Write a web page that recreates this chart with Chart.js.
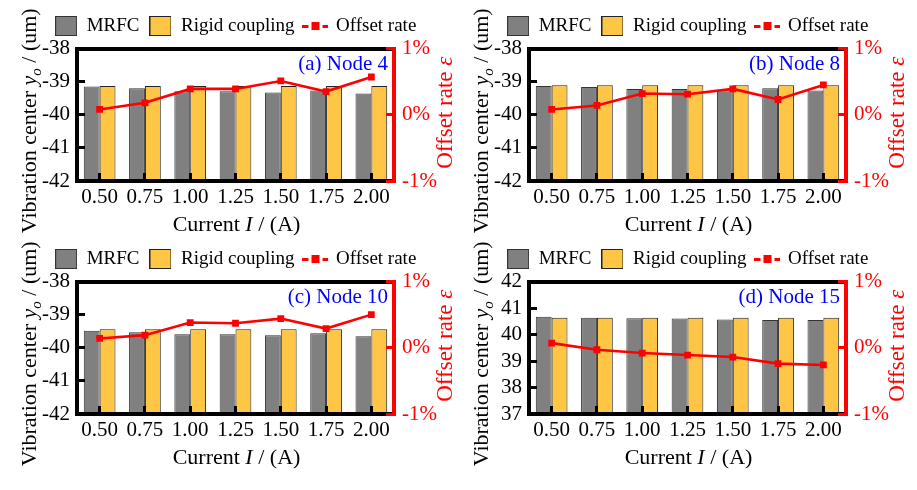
<!DOCTYPE html>
<html>
<head>
<meta charset="utf-8">
<script src="https://cdn.jsdelivr.net/npm/chart.js@4.4.0/dist/chart.umd.min.js"></script>
<style>
  body { margin: 0; background: #fff; width: 917px; height: 490px; position: relative; overflow: hidden; }
  canvas { position: absolute; }
</style>
</head>
<body>
<canvas id="panelA" width="458" height="257" style="left:0;top:0"></canvas>
<canvas id="panelB" width="458" height="257" style="left:452px;top:0"></canvas>
<canvas id="panelC" width="458" height="257" style="left:0;top:233px"></canvas>
<canvas id="panelD" width="458" height="257" style="left:452px;top:233px"></canvas>
<script>
// currents on the x axis
const currents = ['0.50', '0.75', '1.00', '1.25', '1.50', '1.75', '2.00'];

// node 4
const mrfcNode4 = [-39.15, -39.20, -39.29, -39.29, -39.33, -39.27, -39.36];
const rigidNode4 = [-39.13, -39.13, -39.13, -39.13, -39.13, -39.13, -39.13];
const offsetNode4 = [0.08, 0.18, 0.39, 0.39, 0.51, 0.35, 0.57];

// node 8
const mrfcNode8 = [-39.13, -39.16, -39.22, -39.22, -39.26, -39.20, -39.27];
const rigidNode8 = [-39.11, -39.11, -39.11, -39.11, -39.11, -39.11, -39.11];
const offsetNode8 = [0.08, 0.14, 0.32, 0.31, 0.39, 0.23, 0.45];

// node 10
const mrfcNode10 = [-39.49, -39.53, -39.59, -39.59, -39.62, -39.56, -39.65];
const rigidNode10 = [-39.44, -39.44, -39.44, -39.44, -39.44, -39.44, -39.44];
const offsetNode10 = [0.14, 0.19, 0.38, 0.37, 0.44, 0.29, 0.50];

// node 15
const mrfcNode15 = [40.67, 40.63, 40.61, 40.60, 40.57, 40.55, 40.55];
const rigidNode15 = [40.63, 40.63, 40.63, 40.63, 40.63, 40.63, 40.63];
const offsetNode15 = [0.07, -0.03, -0.08, -0.11, -0.14, -0.24, -0.26];

// right axis ticks (%)
const offsetTicks = [-1, 0, 1];

const serif = "'Liberation Serif', 'Times New Roman', serif";
const GRAY = '#808080';
const ORANGE = '#ffc545';
const RED = '#ff0000';

// legend icons, one per dataset
function legendIcon(kind) {
  const c = document.createElement('canvas');
  const g = c.getContext('2d');
  if (kind === 'line') {
    c.width = 26; c.height = 10;
    g.fillStyle = RED;
    g.fillRect(0, 4, 6, 3);
    g.fillRect(9, 1, 8, 8);
    g.fillRect(20, 4, 6, 3);
  } else {
    c.width = 22; c.height = 20;
    g.fillStyle = kind === 'gray' ? GRAY : ORANGE;
    g.fillRect(0, 0, 22, 20);
    g.strokeStyle = kind === 'gray' ? '#333' : '#222';
    g.lineWidth = 1;
    g.strokeRect(0.5, 0.5, 21, 19);
  }
  return c;
}
const icons = [legendIcon('gray'), legendIcon('orange'), legendIcon('line')];

// text made of plain / italic / subscript pieces, centred on x
function richText(ctx, parts, x, y, size, color) {
  const fontOf = p => (p.it ? 'italic ' : '') + (p.sub ? Math.round(size * 0.7) : size) + 'px ' + serif;
  let total = 0;
  parts.forEach(p => { ctx.font = fontOf(p); total += ctx.measureText(p.t).width; });
  let cx = x - total / 2;
  ctx.fillStyle = color;
  ctx.textAlign = 'left';
  ctx.textBaseline = 'alphabetic';
  parts.forEach(p => {
    ctx.font = fontOf(p);
    ctx.fillText(p.t, cx, y + (p.sub ? size * 0.22 : 0));
    cx += ctx.measureText(p.t).width;
  });
}

const titlesPlugin = {
  id: 'titles',
  afterDraw(chart, args, opts) {
    const ctx = chart.ctx;
    const ca = chart.chartArea;
    const midY = (ca.top + ca.bottom) / 2;
    ctx.save();
    richText(ctx, [{ t: 'Current ' }, { t: 'I', it: true }, { t: ' / (A)' }],
      (ca.left + ca.right) / 2 + 1, ca.bottom + 50, 22, '#000');

    ctx.save();
    ctx.translate(ca.left - 41, midY + 6);
    ctx.rotate(-Math.PI / 2);
    richText(ctx, [{ t: 'Vibration center ' }, { t: 'y', it: true }, { t: 'o', it: true, sub: true }, { t: ' / (um)' }],
      0, 0, 22, '#000');
    ctx.restore();

    ctx.save();
    ctx.translate(ca.right + 58, midY - 2);
    ctx.rotate(-Math.PI / 2);
    richText(ctx, [{ t: 'Offset rate ' }, { t: 'ε', it: true }], 0, 0, 23, RED);
    ctx.restore();

    ctx.font = '21px ' + serif;
    ctx.fillStyle = '#0000ff';
    ctx.textAlign = 'right';
    ctx.textBaseline = 'alphabetic';
    ctx.fillText(opts.tag, ca.right - 6, ca.top + 21);
    ctx.restore();
  }
};

function makePanel(id, tag, mrfc, rigid, offset, yMin, yMax) {
  const H = 257;
  new Chart(document.getElementById(id), {
    data: {
      labels: currents,
      datasets: [
        {
          type: 'bar', label: 'MRFC', xAxisID: 'x', yAxisID: 'y',
          data: mrfc.map(v => [yMin, v]),
          backgroundColor: GRAY, borderColor: '#333', borderWidth: 1, borderSkipped: false,
          categoryPercentage: 0.7, barPercentage: 1, order: 1
        },
        {
          type: 'bar', label: 'Rigid coupling', xAxisID: 'x', yAxisID: 'y',
          data: rigid.map(v => [yMin, v]),
          backgroundColor: ORANGE, borderColor: '#222', borderWidth: 1, borderSkipped: false,
          categoryPercentage: 0.7, barPercentage: 1, order: 1
        },
        {
          type: 'line', label: 'Offset rate', xAxisID: 'x', yAxisID: 'y1',
          data: offset,
          borderColor: RED, borderWidth: 2.6, tension: 0,
          pointStyle: 'rect', pointRadius: 4.8, pointBackgroundColor: RED, pointBorderWidth: 0,
          order: 0
        }
      ]
    },
    options: {
      responsive: false,
      animation: false,
      events: [],
      layout: { padding: { left: 13.5, top: 6.5, right: 0, bottom: 0 } },
      plugins: {
        legend: {
          position: 'top',
          labels: {
            usePointStyle: true, pointStyleWidth: 22, padding: 10, color: '#000',
            font: { family: serif, size: 19 },
            generateLabels: chart => {
              const items = Chart.defaults.plugins.legend.labels.generateLabels(chart);
              items.sort((a, b) => a.datasetIndex - b.datasetIndex);
              items.forEach(it => { it.pointStyle = icons[it.datasetIndex]; it.fontColor = '#000'; });
              return items;
            }
          }
        },
        tooltip: { enabled: false },
        titles: { tag: tag }
      },
      scales: {
        x: {
          type: 'category', position: 'bottom', offset: true,
          grid: { display: true, z: 1, drawOnChartArea: false, offset: false, tickLength: -8, tickWidth: 3, tickColor: '#000' },
          border: { color: '#000', width: 4, z: 2 },
          ticks: { color: '#000', font: { family: serif, size: 21 }, padding: 12, maxRotation: 0, autoSkip: false },
          afterFit: s => { s.height = H - 181; }
        },
        xTop: {
          type: 'category', position: 'top',
          grid: { display: true, drawOnChartArea: false, drawTicks: false },
          border: { color: '#000', width: 4, z: 2 },
          ticks: { display: false },
          afterFit: s => { s.height = 3; }
        },
        y: {
          position: 'left', min: yMin, max: yMax,
          grid: { display: true, z: 1, drawOnChartArea: false, tickLength: -8, tickWidth: 3, tickColor: '#000' },
          border: { color: '#000', width: 4, z: 2 },
          ticks: { stepSize: 1, autoSkip: false, color: '#000', font: { family: serif, size: 21 }, padding: 15 },
          afterFit: s => { s.width = 63.5; }
        },
        y1: {
          position: 'right', min: offsetTicks[0], max: offsetTicks[offsetTicks.length - 1],
          grid: { display: true, z: 3, drawOnChartArea: false, tickLength: -8, tickWidth: 3, tickColor: RED },
          border: { color: RED, width: 4, z: 3 },
          ticks: { stepSize: 1, autoSkip: false, color: RED, font: { family: serif, size: 21 }, padding: 16, callback: v => v + '%' },
          afterFit: s => { s.width = 458 - 394; }
        }
      }
    },
    plugins: [titlesPlugin]
  });
}

makePanel('panelA', '(a) Node 4', mrfcNode4, rigidNode4, offsetNode4, -42, -38);
makePanel('panelB', '(b) Node 8', mrfcNode8, rigidNode8, offsetNode8, -42, -38);
makePanel('panelC', '(c) Node 10', mrfcNode10, rigidNode10, offsetNode10, -42, -38);
makePanel('panelD', '(d) Node 15', mrfcNode15, rigidNode15, offsetNode15, 37, 42);
</script>
</body>
</html>
